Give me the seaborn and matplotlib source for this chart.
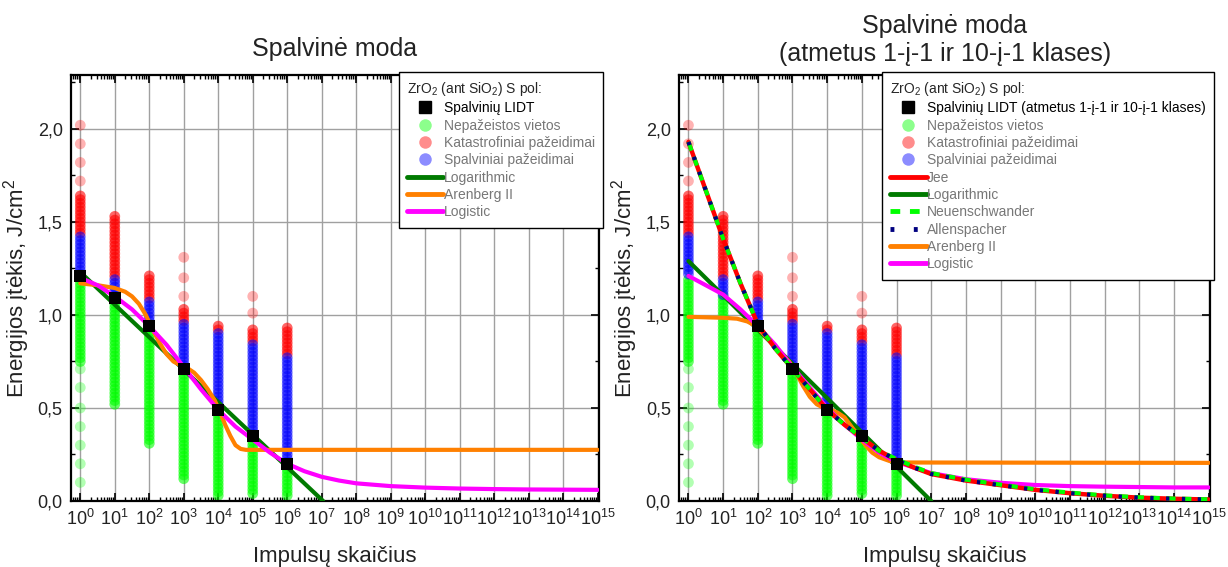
import matplotlib
matplotlib.use("Agg")
import numpy as np
import pandas as pd
import matplotlib.pyplot as plt
import seaborn as sns
from matplotlib.ticker import (LogLocator, FuncFormatter, MultipleLocator, NullFormatter, LogFormatterMathtext,
                               FixedLocator)
from matplotlib.lines import Line2D

# ---------------- data ----------------
pulses = [1, 10, 100, 1000, 10000, 100000, 1000000]
x_tick_exps = [0, 1, 2, 3, 4, 5, 6, 7, 8, 9, 10, 11, 12, 13, 14, 15]

undamaged_dense = {
    1: [0.75, 0.77, 0.79, 0.81, 0.83, 0.85, 0.87, 0.89, 0.91, 0.93, 0.95, 0.97, 0.99, 1.01, 1.03, 1.05,
        1.07, 1.09, 1.11, 1.13, 1.15, 1.17, 1.19],
    10: [0.52, 0.54, 0.56, 0.58, 0.60, 0.62, 0.64, 0.66, 0.68, 0.70, 0.72, 0.74, 0.76, 0.78, 0.80, 0.82,
         0.84, 0.86, 0.88, 0.90, 0.92, 0.94, 0.96, 0.98, 1.00, 1.02, 1.04, 1.06, 1.08, 1.10],
    100: [0.31, 0.33, 0.35, 0.37, 0.39, 0.41, 0.43, 0.45, 0.47, 0.49, 0.51, 0.53, 0.55, 0.57, 0.59, 0.61,
          0.63, 0.65, 0.67, 0.69, 0.71, 0.73, 0.75, 0.77, 0.79, 0.81, 0.83, 0.85, 0.87, 0.89, 0.91, 0.93, 0.95],
    1000: [0.12, 0.14, 0.16, 0.18, 0.20, 0.22, 0.24, 0.26, 0.28, 0.30, 0.32, 0.34, 0.36, 0.38, 0.40, 0.42,
           0.44, 0.46, 0.48, 0.50, 0.52, 0.54, 0.56, 0.58, 0.60, 0.62, 0.64, 0.66, 0.68, 0.70],
    10000: [0.03, 0.05, 0.07, 0.09, 0.11, 0.13, 0.15, 0.17, 0.19, 0.21, 0.23, 0.25, 0.27, 0.29, 0.31, 0.33,
            0.35, 0.37, 0.39, 0.41, 0.43, 0.45, 0.47, 0.49],
    100000: [0.04, 0.06, 0.08, 0.10, 0.12, 0.14, 0.16, 0.18, 0.20, 0.22, 0.24, 0.26, 0.28, 0.30, 0.32, 0.34],
    1000000: [0.03, 0.05, 0.07, 0.09, 0.11, 0.13, 0.15, 0.17, 0.19],
}
undamaged_sparse = {1: [0.10, 0.20, 0.30, 0.40, 0.50, 0.61, 0.71]}

colour_damage = {
    1: [1.22, 1.24, 1.26, 1.28, 1.30, 1.32, 1.34, 1.36, 1.38, 1.40, 1.42],
    10: [1.11, 1.13, 1.15, 1.17, 1.19],
    100: [0.97, 0.99, 1.01, 1.03, 1.05, 1.07],
    1000: [0.73, 0.75, 0.77, 0.79, 0.81, 0.83, 0.85, 0.87, 0.89, 0.91, 0.93, 0.95],
    10000: [0.50, 0.52, 0.54, 0.56, 0.58, 0.60, 0.62, 0.64, 0.66, 0.68, 0.70, 0.72, 0.74, 0.76, 0.78, 0.80,
            0.82, 0.84, 0.86, 0.88, 0.90],
    100000: [0.36, 0.38, 0.40, 0.42, 0.44, 0.46, 0.48, 0.50, 0.52, 0.54, 0.56, 0.58, 0.60, 0.62, 0.64, 0.66,
             0.68, 0.70, 0.72, 0.74, 0.76, 0.78, 0.80, 0.82, 0.84],
    1000000: [0.21, 0.23, 0.25, 0.27, 0.29, 0.31, 0.33, 0.35, 0.37, 0.39, 0.41, 0.43, 0.45, 0.47, 0.49, 0.51,
              0.53, 0.55, 0.57, 0.59, 0.61, 0.63, 0.65, 0.67, 0.69, 0.71, 0.73, 0.75, 0.77],
}

catastrophic_dense = {
    1: [1.44, 1.46, 1.48, 1.50, 1.52, 1.54, 1.56, 1.58, 1.60, 1.62, 1.64],
    10: [1.21, 1.23, 1.25, 1.27, 1.29, 1.31, 1.33, 1.35, 1.37, 1.39, 1.41, 1.43, 1.45, 1.47, 1.49, 1.51, 1.53],
    100: [1.09, 1.11, 1.13, 1.15, 1.17, 1.19, 1.21],
    1000: [0.97, 0.99, 1.01, 1.03],
    10000: [0.92, 0.94],
    100000: [0.86, 0.88, 0.90, 0.92],
    1000000: [0.79, 0.81, 0.83, 0.85, 0.87, 0.89, 0.91, 0.93],
}
catastrophic_sparse = {1: [1.72, 1.82, 1.92, 2.02], 1000: [1.10, 1.20, 1.31], 100000: [1.01, 1.10]}

lidt_all = [1.21, 1.09, 0.94, 0.71, 0.49, 0.35, 0.20]
lidt_excl_pulses = [100, 1000, 10000, 100000, 1000000]
lidt_excl = [0.94, 0.71, 0.49, 0.35, 0.20]

# fitted curves, read as (decade exponent, fluence)
log_left_exp = [0, 7.04]
log_left_val = [1.23, 0.0]
aren_left_exp = [0, 0.5, 1.0, 1.3, 1.5, 1.7, 1.9, 2.1, 2.3, 2.5, 2.7, 2.9, 3.1, 3.3, 3.5, 3.7, 3.9, 4.05,
                 4.2, 4.35, 4.5, 4.65, 4.8, 15.0]
aren_left_val = [1.17, 1.16, 1.145, 1.125, 1.10, 1.06, 1.00, 0.92, 0.85, 0.79, 0.75, 0.73, 0.715, 0.69, 0.65,
                 0.60, 0.54, 0.48, 0.41, 0.35, 0.30, 0.28, 0.275, 0.275]
logi_left_exp = [0, 0.5, 1, 1.5, 2, 2.5, 3, 3.5, 4, 4.5, 5, 5.5, 6, 6.5, 7, 7.5, 8, 9, 10, 11, 12, 13, 14, 15]
logi_left_val = [1.20, 1.16, 1.10, 1.03, 0.94, 0.84, 0.72, 0.60, 0.49, 0.40, 0.33, 0.26, 0.20, 0.16, 0.13, 0.11,
                 0.095, 0.08, 0.072, 0.067, 0.064, 0.062, 0.061, 0.06]

jee_exp = [0, 0.5, 1, 1.5, 2, 2.5, 3, 3.5, 4, 4.5, 5, 5.5, 6, 6.5, 7, 8, 9, 10, 11, 12, 13, 14, 15]
jee_val = [1.93, 1.67, 1.41, 1.17, 0.95, 0.82, 0.71, 0.60, 0.49, 0.41, 0.34, 0.27, 0.22, 0.18, 0.145, 0.11,
           0.085, 0.06, 0.042, 0.028, 0.018, 0.012, 0.008]
neu_val = [1.93, 1.67, 1.41, 1.17, 0.95, 0.82, 0.71, 0.60, 0.49, 0.41, 0.34, 0.27, 0.225, 0.185, 0.15, 0.115,
           0.088, 0.063, 0.045, 0.030, 0.020, 0.013, 0.009]
allen_val = [1.93, 1.67, 1.41, 1.17, 0.95, 0.82, 0.71, 0.60, 0.49, 0.41, 0.34, 0.27, 0.22, 0.18, 0.145, 0.11,
             0.085, 0.06, 0.042, 0.028, 0.018, 0.012, 0.008]
log_right_exp = [0, 7.0]
log_right_val = [1.29, 0.0]
aren_right_exp = [0, 1.0, 1.4, 1.7, 1.9, 2.1, 2.3, 2.5, 2.7, 2.9, 3.1, 3.3, 3.5, 3.7, 3.9, 4.1, 4.3, 4.5,
                  4.7, 4.9, 5.1, 5.3, 5.5, 5.8, 6.2, 15.0]
aren_right_val = [0.99, 0.985, 0.98, 0.965, 0.945, 0.91, 0.87, 0.83, 0.79, 0.75, 0.69, 0.62, 0.56, 0.52,
                  0.50, 0.49, 0.475, 0.45, 0.40, 0.35, 0.30, 0.26, 0.235, 0.215, 0.207, 0.205]
logi_right_exp = [0, 0.5, 1, 1.5, 2, 2.5, 3, 3.5, 4, 4.5, 5, 5.5, 6, 6.5, 7, 8, 9, 10, 11, 12, 13, 14, 15]
logi_right_val = [1.21, 1.16, 1.11, 1.03, 0.94, 0.84, 0.72, 0.61, 0.50, 0.41, 0.33, 0.26, 0.21, 0.18, 0.15,
                  0.117, 0.098, 0.086, 0.080, 0.077, 0.075, 0.073, 0.073]

# ---------------- style ----------------
sns.set_style("ticks")
plt.rcParams["font.family"] = ["Liberation Sans", "DejaVu Sans"]
plt.rcParams["mathtext.fontset"] = "custom"
plt.rcParams["mathtext.rm"] = "Liberation Sans"
plt.rcParams["mathtext.it"] = "Liberation Sans:italic"
plt.rcParams["mathtext.bf"] = "Liberation Sans:bold"

GREEN = "#00ff00"
RED = "#ff0000"
BLUE = "#0000ff"
DKGREEN = "#007a00"
ORANGE = "#ff8000"
MAGENTA = "#ff00ff"
NAVY = "#000080"


def frame(d):
    rows = [(n, e) for n, vals in d.items() for e in vals]
    return pd.DataFrame(rows, columns=["N", "E"])


def curve(exps, vals):
    return pd.DataFrame({"N": [10.0 ** e for e in exps], "E": vals})


fig = plt.figure(figsize=(12.28, 5.67), dpi=100)
axL = fig.add_axes([0.0578, 0.1164, 0.4300, 0.7513])
axR = fig.add_axes([0.5530, 0.1164, 0.4324, 0.7513])


def scatter_points(ax):
    ms = 60
    sns.scatterplot(data=frame(undamaged_dense), x="N", y="E", ax=ax, color=GREEN, alpha=0.6, s=ms,
                    edgecolor="none", legend=False, zorder=2)
    sns.scatterplot(data=frame(undamaged_sparse), x="N", y="E", ax=ax, color=GREEN, alpha=0.3, s=ms,
                    edgecolor="none", legend=False, zorder=2)
    sns.scatterplot(data=frame(catastrophic_dense), x="N", y="E", ax=ax, color=RED, alpha=0.6, s=ms,
                    edgecolor="none", legend=False, zorder=2)
    sns.scatterplot(data=frame(catastrophic_sparse), x="N", y="E", ax=ax, color=RED, alpha=0.3, s=ms,
                    edgecolor="none", legend=False, zorder=2)
    sns.scatterplot(data=frame(colour_damage), x="N", y="E", ax=ax, color=BLUE, alpha=0.55, s=ms,
                    edgecolor="none", legend=False, zorder=2)


def draw_line(ax, exps, vals, color, lw=3.0, dashes=None, z=3):
    kw = {}
    if dashes is not None:
        kw["dashes"] = dashes
    sns.lineplot(data=curve(exps, vals), x="N", y="E", ax=ax, color=color, lw=lw, sort=False,
                 estimator=None, legend=False, zorder=z, **kw)


def style_axes(ax):
    ax.set_xscale("log")
    ax.set_xlim(10 ** -0.27, 10 ** 15.04)
    ax.set_ylim(0, 2.29)
    ax.xaxis.set_major_locator(FixedLocator([10.0 ** e for e in x_tick_exps]))
    ax.xaxis.set_major_formatter(LogFormatterMathtext())
    ax.xaxis.set_minor_locator(LogLocator(base=10, subs=np.arange(2, 10), numticks=30))
    ax.xaxis.set_minor_formatter(NullFormatter())
    ax.yaxis.set_major_locator(FixedLocator([0.0, 0.5, 1.0, 1.5, 2.0]))
    ax.yaxis.set_minor_locator(FixedLocator([0.25, 0.75, 1.25, 1.75, 2.25]))
    ax.yaxis.set_major_formatter(FuncFormatter(lambda v, p: f"{v:.1f}".replace(".", ",")))
    ax.tick_params(which="both", direction="in", top=True, right=True, colors="black", labelcolor="#222222")
    ax.tick_params(which="major", length=6, width=1.2, labelsize=13, pad=6)
    ax.tick_params(which="minor", length=3, width=1.0)
    ax.grid(True, which="major", color="#a0a0a0", lw=1.0, zorder=0)
    ax.set_axisbelow(True)
    for sp in ax.spines.values():
        sp.set_linewidth(1.6)
        sp.set_color("black")
    ax.set_xlabel("Impulsų skaičius", fontsize=16, color="#222222", labelpad=12)
    ax.set_ylabel("Energijos įtėkis, J/cm$^2$", fontsize=16, color="#222222", labelpad=4)


def circle_handle(c, a):
    return Line2D([], [], ls="none", marker="o", markersize=9, markerfacecolor=c, markeredgecolor="none",
                  alpha=a)


def line_handle(c, dashes=None):
    h = Line2D([], [], color=c, lw=3.5)
    if dashes is not None:
        h.set_dashes(dashes)
    return h


def make_legend(ax, handles, labels):
    sq = Line2D([], [], ls="none", marker="s", markersize=8, color="black")
    hs = [sq, circle_handle(GREEN, 0.45), circle_handle(RED, 0.45), circle_handle(BLUE, 0.45)] + handles
    leg = ax.legend(hs, labels, title="ZrO$_2$ (ant SiO$_2$) S pol:", loc="upper right",
                    bbox_to_anchor=(1.008, 1.008), fontsize=10, title_fontsize=10, frameon=True,
                    fancybox=False, framealpha=1, edgecolor="black", borderaxespad=0, borderpad=0.6,
                    labelspacing=0.24, handlelength=2.6, handletextpad=0.05)
    leg.get_frame().set_linewidth(1.0)
    leg._legend_box.align = "left"
    for i, t in enumerate(leg.get_texts()):
        t.set_color("black" if i == 0 else "#777777")
    leg.set_zorder(10)
    return leg


# ---------------- left panel ----------------
scatter_points(axL)
draw_line(axL, log_left_exp, log_left_val, DKGREEN)
draw_line(axL, aren_left_exp, aren_left_val, ORANGE)
draw_line(axL, logi_left_exp, logi_left_val, MAGENTA)
sns.scatterplot(x=pulses, y=lidt_all, ax=axL, marker="s", color="black", s=75, edgecolor="none",
                legend=False, zorder=5)
style_axes(axL)
axL.set_title("Spalvinė moda", fontsize=18, color="#222222", pad=14)
make_legend(axL,
            [line_handle(DKGREEN), line_handle(ORANGE), line_handle(MAGENTA)],
            ["Spalvinių LIDT", "Nepažeistos vietos", "Katastrofiniai pažeidimai", "Spalviniai pažeidimai",
             "Logarithmic", "Arenberg II", "Logistic"])

# ---------------- right panel ----------------
scatter_points(axR)
draw_line(axR, log_right_exp, log_right_val, DKGREEN)
draw_line(axR, aren_right_exp, aren_right_val, ORANGE)
draw_line(axR, logi_right_exp, logi_right_val, MAGENTA)
draw_line(axR, jee_exp, jee_val, RED, lw=3.2)
draw_line(axR, jee_exp, neu_val, GREEN, lw=3.0, dashes=(2.2, 1.6), z=4)
draw_line(axR, jee_exp, allen_val, NAVY, lw=3.0, dashes=(0.8, 3.0), z=4)
sns.scatterplot(x=lidt_excl_pulses, y=lidt_excl, ax=axR, marker="s", color="black", s=75, edgecolor="none",
                legend=False, zorder=5)
style_axes(axR)
axR.set_title("Spalvinė moda\n(atmetus 1-į-1 ir 10-į-1 klases)", fontsize=18, color="#222222", pad=10,
              linespacing=1.2)
make_legend(axR,
            [line_handle(RED), line_handle(DKGREEN), line_handle(GREEN, (2.0, 2.0)), line_handle(NAVY, (0.8, 4.0)),
             line_handle(ORANGE), line_handle(MAGENTA)],
            ["Spalvinių LIDT (atmetus 1-į-1 ir 10-į-1 klases)", "Nepažeistos vietos", "Katastrofiniai pažeidimai",
             "Spalviniai pažeidimai", "Jee", "Logarithmic", "Neuenschwander", "Allenspacher", "Arenberg II",
             "Logistic"])

fig.savefig("out.png", dpi=100)
